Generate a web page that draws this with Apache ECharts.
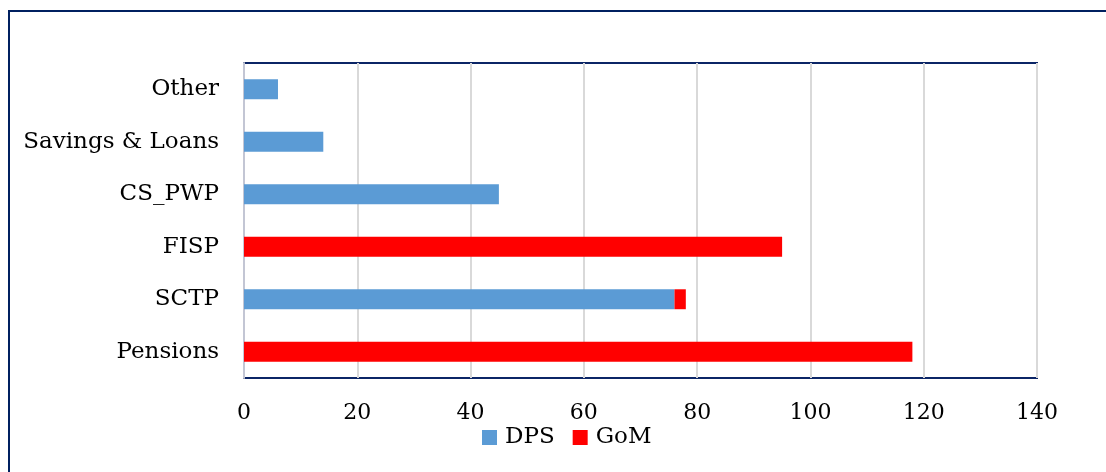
<!DOCTYPE html>
<html>
<head>
<meta charset="utf-8">
<script src="https://cdn.jsdelivr.net/npm/echarts@6/dist/echarts.min.js"></script>
<style>
html,body{margin:0;padding:0;background:#fff;}
#chart{width:1106px;height:472px;}
</style>
</head>
<body>
<div id="chart"></div>
<script>
const categories = ['Pensions', 'SCTP', 'FISP', 'CS_PWP', 'Savings & Loans', 'Other'];
const dpsValues = [0, 76, 0, 45, 14, 6];
const gomValues = [118, 2, 95, 0, 0, 0];
const xTicks = { min: 0, max: 140, interval: 20 };

const FONT = 'DejaVu Serif';
const chart = echarts.init(document.getElementById('chart'));
chart.setOption({
  animation: false,
  backgroundColor: '#fff',
  graphic: [{
    type: 'rect',
    shape: { x: 9, y: 11, width: 1200, height: 600 },
    style: { fill: 'none', stroke: '#002060', lineWidth: 2 },
    silent: true
  }],
  grid: {
    left: 244, right: 69, top: 63, bottom: 94,
    show: true, borderColor: '#0B2566', borderWidth: 2, backgroundColor: 'transparent'
  },
  legend: {
    bottom: 18,
    left: 477,
    itemWidth: 15, itemHeight: 15, itemGap: 18,
    icon: 'rect',
    textStyle: { fontFamily: FONT, fontSize: 23, color: '#000', padding: [0, 0, 0, 3] },
    data: ['DPS', 'GoM']
  },
  xAxis: {
    type: 'value',
    min: xTicks.min, max: xTicks.max, interval: xTicks.interval,
    axisLine: { show: false },
    axisTick: { show: false },
    axisLabel: { fontFamily: FONT, fontSize: 22, color: '#000', margin: 24 },
    splitLine: { show: true, lineStyle: { color: '#D9D9D9', width: 2 } }
  },
  yAxis: {
    type: 'category',
    data: categories,
    axisLine: { show: true, lineStyle: { color: '#C3C6D4', width: 2 } },
    axisTick: { show: false },
    axisLabel: { fontFamily: FONT, fontSize: 23, color: '#000', margin: 25 }
  },
  series: [{
    name: 'DPS', type: 'bar', stack: 'total', data: dpsValues,
    barWidth: '38%', itemStyle: { color: '#5B9BD5' }
  }, {
    name: 'GoM', type: 'bar', stack: 'total', data: gomValues,
    barWidth: '38%', itemStyle: { color: '#FF0000' }
  }]
});
</script>
</body>
</html>
